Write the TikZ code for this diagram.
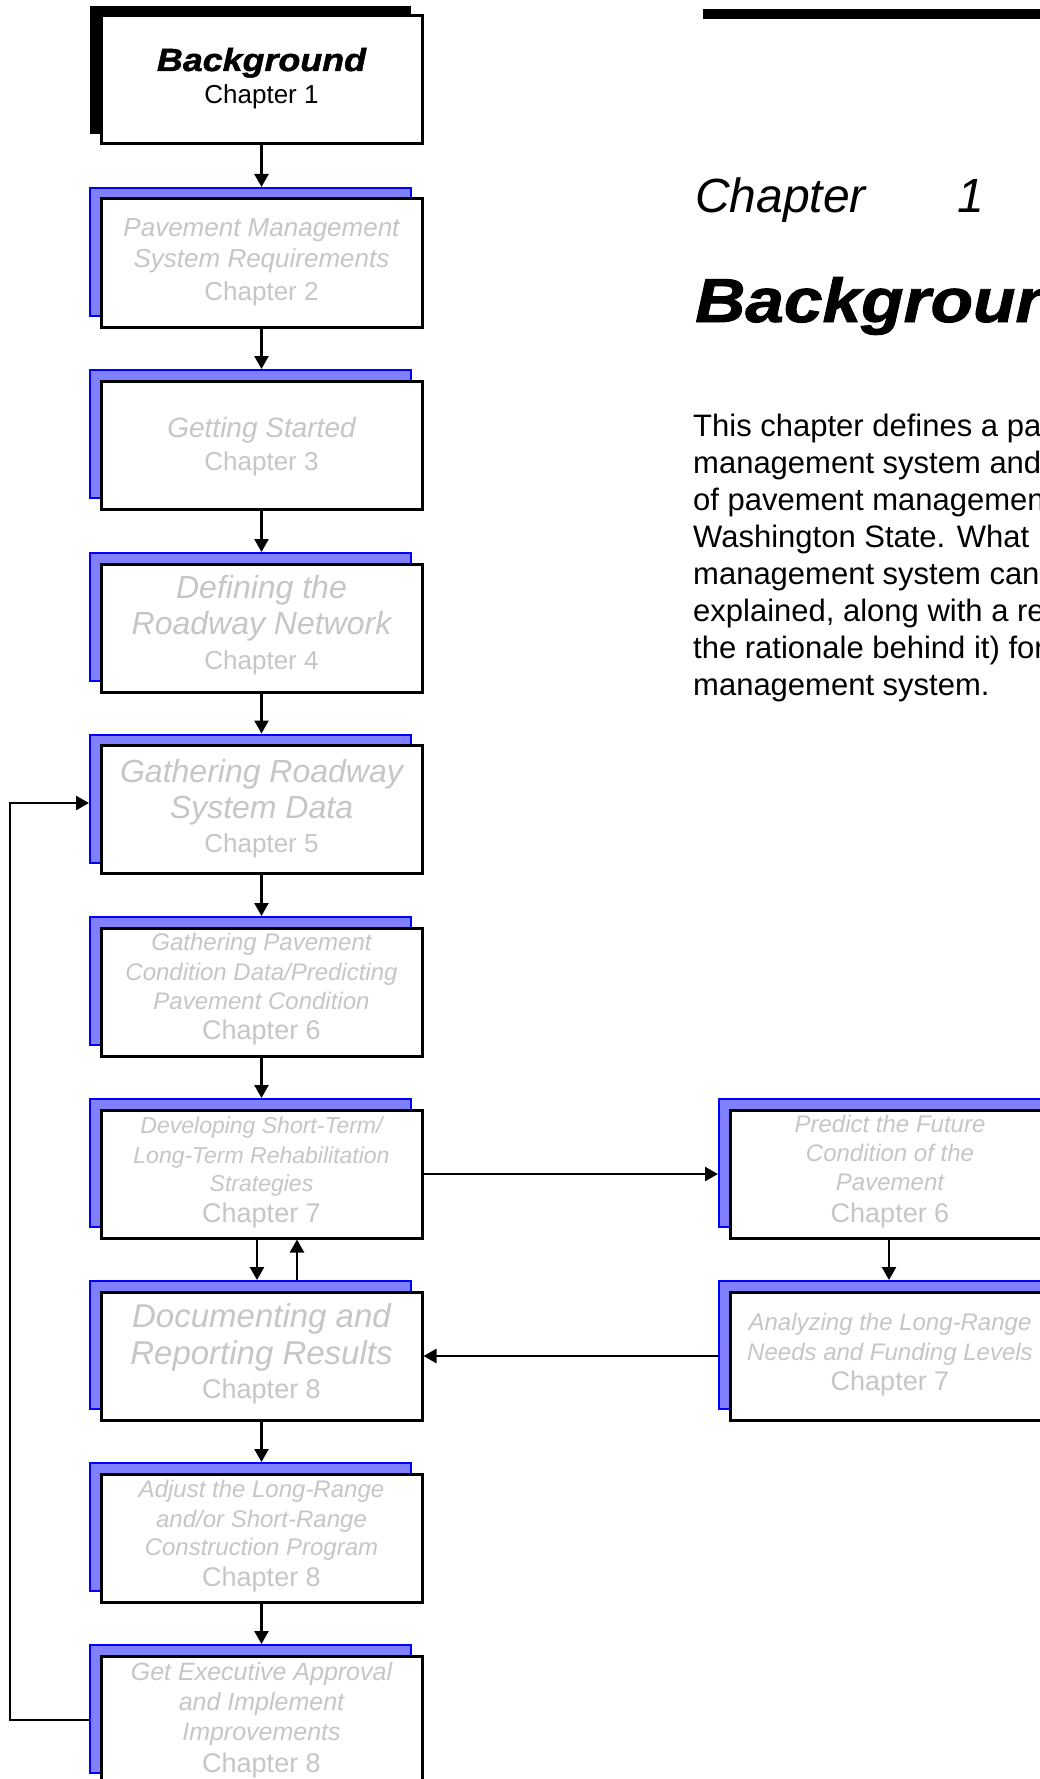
\documentclass[tikz,border=0pt]{standalone}
\usepackage{fontspec}
\setmainfont{Liberation Sans}
\newfontfamily\heavyfont[FakeStretch=1.12,FakeBold=1.5]{Liberation Sans}
\usetikzlibrary{arrows.meta}
\definecolor{labelgray}{RGB}{198,198,198}
\definecolor{shadowfill}{RGB}{128,128,255}
\definecolor{shadowline}{RGB}{0,0,255}

\begin{document}
\begin{tikzpicture}[x=1pt,y=-1pt,
  mainbox/.style={draw=black, line width=3pt, fill=white, minimum width=321pt, minimum height=128pt, inner sep=0pt},
  bluebox/.style={draw=shadowline, line width=2pt, fill=shadowfill, minimum width=321pt, minimum height=128pt, inner sep=0pt},
  blackbox/.style={draw=black, fill=black, line width=1pt, minimum width=320pt, minimum height=127pt, inner sep=0pt},
  widebox/.style={minimum width=420pt},
  flow/.style={line width=2.5pt, -{Triangle[length=13pt,width=14pt]}},
  lbl/.style={anchor=base, inner sep=0pt, text=labelgray},
  itx/.style={font=\itshape\fontsize{#1}{#1}\selectfont},
  upx/.style={font=\upshape\fontsize{#1}{#1}\selectfont},
  body/.style={anchor=base west, inner sep=0pt, font=\fontsize{31}{31}\selectfont},
]
\useasboundingbox (0,0) rectangle (1039,1779);
\fill[white] (0,0) rectangle (1039,1779);

% ---------- left column: shadows ----------
\node[blackbox] (s1)  at (250.5,70)   {};
\node[bluebox]  (s2)  at (250.5,252)  {};
\node[bluebox]  (s3)  at (250.5,434)  {};
\node[bluebox]  (s4)  at (250.5,617)  {};
\node[bluebox]  (s5)  at (250.5,798.5){};
\node[bluebox]  (s6)  at (250.5,981)  {};
\node[bluebox]  (s7)  at (250.5,1163) {};
\node[bluebox]  (s8)  at (250.5,1345) {};
\node[bluebox]  (s9)  at (250.5,1527) {};
\node[bluebox]  (s10) at (250.5,1709) {};

% ---------- left column: boxes ----------
\node[mainbox] (b1)  at (261.5,80)   {};
\node[mainbox] (b2)  at (261.5,263)  {};
\node[mainbox] (b3)  at (261.5,445)  {};
\node[mainbox] (b4)  at (261.5,628)  {};
\node[mainbox] (b5)  at (261.5,809.5){};
\node[mainbox] (b6)  at (261.5,992)  {};
\node[mainbox] (b7)  at (261.5,1174) {};
\node[mainbox] (b8)  at (261.5,1356) {};
\node[mainbox] (b9)  at (261.5,1538) {};
\node[mainbox] (b10) at (261.5,1720) {};

% ---------- right column (runs past the right edge) ----------
\node[bluebox,widebox] (rs1) at (929,1163) {};
\node[bluebox,widebox] (rs2) at (929,1345) {};
\node[mainbox,widebox] (rb1) at (940,1174) {};
\node[mainbox,widebox] (rb2) at (940,1356) {};
\coordinate (rmid) at (889,0);

% ---------- box labels ----------
\node[anchor=base, inner sep=0pt, font=\heavyfont\bfseries\itshape\fontsize{32}{32}\selectfont] (t1a) at (261.5,71) {Background};
\node[anchor=base, inner sep=0pt, upx=26] (t1b) at (261.5,104) {Chapter 1};

\node[lbl,itx=26] (t2a) at (261.5,237) {Pavement Management};
\node[lbl,itx=26] (t2b) at (261.5,268) {System Requirements};
\node[lbl,upx=26] (t2c) at (261.5,300) {Chapter 2};

\node[lbl,itx=28] (t3a) at (261.5,437) {Getting Started};
\node[lbl,upx=26] (t3b) at (261.5,470) {Chapter 3};

\node[lbl,itx=32] (t4a) at (261.5,598) {Defining the};
\node[lbl,itx=32] (t4b) at (261.5,634) {Roadway Network};
\node[lbl,upx=26] (t4c) at (261.5,669) {Chapter 4};

\node[lbl,itx=32] (t5a) at (261.5,782) {Gathering Roadway};
\node[lbl,itx=32] (t5b) at (261.5,818) {System Data};
\node[lbl,upx=26] (t5c) at (261.5,852) {Chapter 5};

\node[lbl,itx=24] (t6a) at (261.5,950)  {Gathering Pavement};
\node[lbl,itx=24] (t6b) at (261.5,980)  {Condition Data/Predicting};
\node[lbl,itx=24] (t6c) at (261.5,1009) {Pavement Condition};
\node[lbl,upx=27] (t6d) at (261.5,1039) {Chapter 6};

\node[lbl,itx=23] (t7a) at (261.5,1133) {Developing Short-Term/};
\node[lbl,itx=23] (t7b) at (261.5,1163) {Long-Term Rehabilitation};
\node[lbl,itx=23] (t7c) at (261.5,1191) {Strategies};
\node[lbl,upx=27] (t7d) at (261.5,1222) {Chapter 7};

\node[lbl,itx=33] (t8a) at (261.5,1327) {Documenting and};
\node[lbl,itx=33] (t8b) at (261.5,1364) {Reporting Results};
\node[lbl,upx=27] (t8c) at (261.5,1398) {Chapter 8};

\node[lbl,itx=24] (t9a) at (261.5,1497) {Adjust the Long-Range};
\node[lbl,itx=24] (t9b) at (261.5,1527) {and/or Short-Range};
\node[lbl,itx=24] (t9c) at (261.5,1555) {Construction Program};
\node[lbl,upx=27] (t9d) at (261.5,1586) {Chapter 8};

\node[lbl,itx=25] (t10a) at (261.5,1680) {Get Executive Approval};
\node[lbl,itx=25] (t10b) at (261.5,1710) {and Implement};
\node[lbl,itx=25] (t10c) at (261.5,1740) {Improvements};
\node[lbl,upx=27] (t10d) at (261.5,1772) {Chapter 8};

\node[lbl,itx=24] (r1a) at (890,1132) {Predict the Future};
\node[lbl,itx=24] (r1b) at (890,1161) {Condition of the};
\node[lbl,itx=24] (r1c) at (890,1190) {Pavement};
\node[lbl,upx=27] (r1d) at (890,1222) {Chapter 6};

\node[lbl,itx=24] (r2a) at (890,1330) {Analyzing the Long-Range};
\node[lbl,itx=24] (r2b) at (890,1360) {Needs and Funding Levels};
\node[lbl,upx=27] (r2c) at (890,1390) {Chapter 7};

% ---------- connectors ----------
\draw[flow] (b1.south) -- (b1.south |- s2.north);
\draw[flow] (b2.south) -- (b2.south |- s3.north);
\draw[flow] (b3.south) -- (b3.south |- s4.north);
\draw[flow] (b4.south) -- (b4.south |- s5.north);
\draw[flow] (b5.south) -- (b5.south |- s6.north);
\draw[flow] (b6.south) -- (b6.south |- s7.north);
\draw[flow] ([xshift=-4.5pt]b7.south) -- ([xshift=-4.5pt]b7.south |- s8.north);
\draw[flow] ([xshift=35.5pt]b7.south |- s8.north) -- ([xshift=35.5pt]b7.south);
\draw[flow] (b8.south) -- (b8.south |- s9.north);
\draw[flow] (b9.south) -- (b9.south |- s10.north);

\draw[flow] (b7.east) -- (b7.east -| rs1.west);
\draw[flow] (rmid |- rb1.south) -- (rmid |- rs2.north);
\draw[flow] (rs2.west |- rb2.center) -- (b8.east);

\coordinate (loopx) at (10,0);
\coordinate (loopin) at ([yshift=-4.5pt]s5.west);
\draw[flow] (s10.west |- b10.center) -| (loopx |- loopin) -- (loopin);

% ---------- chapter heading and summary ----------
\fill[black] (703,9) rectangle (1045,19);
\node[anchor=base west, inner sep=0pt, font=\itshape\fontsize{48}{48}\selectfont] (hchap) at (695,213) {Chapter};
\node[anchor=base west, inner sep=0pt, font=\itshape\fontsize{48}{48}\selectfont] (hnum) at (957,213) {1};
\node[anchor=base west, inner sep=0pt, font=\heavyfont\bfseries\itshape\fontsize{62}{62}\selectfont] (htitle) at (695,322) {Background};

\node[body] (p1) at (693,436) {This chapter defines a pavement};
\node[body] (p2) at (693,473) {management system and};
\node[body] (p3) at (693,510) {of pavement management};
\node[body] (p4) at (693,547) {Washington State. What};
\node[body] (p5) at (693,584) {management system can};
\node[body] (p6) at (693,621) {explained, along with a recommendation};
\node[body] (p7) at (693,658) {the rationale behind it) for};
\node[body] (p8) at (693,695) {management system.};
\end{tikzpicture}
\end{document}
